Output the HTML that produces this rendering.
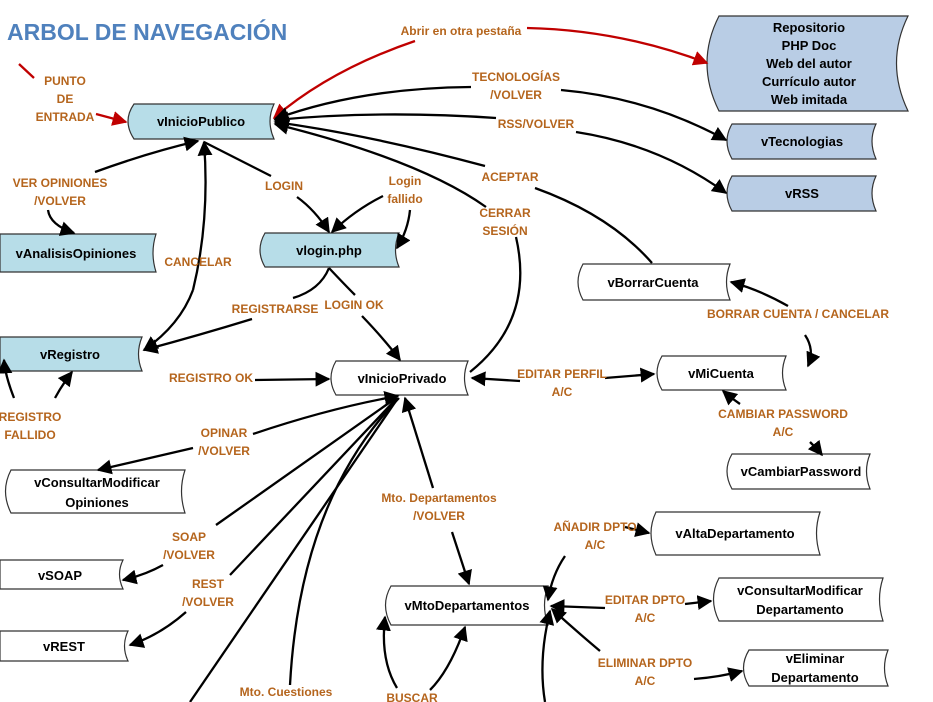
<!DOCTYPE html>
<html><head><meta charset="utf-8"><style>
html,body{margin:0;padding:0;background:#fff}
svg{display:block}
.n{font-family:"Liberation Sans",sans-serif;font-weight:bold;font-size:13px;fill:#000;text-anchor:middle}
.l{font-family:"Liberation Sans",sans-serif;font-weight:bold;font-size:12px;fill:#b5651d;text-anchor:middle}
.e{fill:none;stroke:#000;stroke-width:2.3}
.r{fill:none;stroke:#c00000;stroke-width:2.3}
.b{stroke:#333;stroke-width:1.2;fill:#b7dde8}
.g{stroke:#333;stroke-width:1.2;fill:#b9cde5}
.w{stroke:#333;stroke-width:1.2;fill:#fff}
</style></head><body>
<svg width="933" height="702" viewBox="0 0 933 702" xmlns="http://www.w3.org/2000/svg">
<defs>
<marker id="a" viewBox="0 0 10 10" refX="9" refY="5" markerWidth="6.5" markerHeight="6.5" orient="auto-start-reverse" markerUnits="strokeWidth"><path d="M0,0 L10,5 L0,10 z" fill="#000"/></marker>
<marker id="ar" viewBox="0 0 10 10" refX="9" refY="5" markerWidth="6.5" markerHeight="6.5" orient="auto" markerUnits="strokeWidth"><path d="M0,0 L10,5 L0,10 z" fill="#c00000"/></marker>
</defs>
<text x="7" y="40" style="font-family:'Liberation Sans',sans-serif;font-weight:bold;font-size:23px;fill:#4f81bd">ARBOL DE NAVEGACIÓN</text>

<path class="b" d="M134,104 H274 Q266,121 274,139 H134 Q122,121 134,104Z"/><text class="n" x="201" y="126">vInicioPublico</text>
<path class="g" d="M719,16 H908 Q885,63 908,111 H719 Q695,63 719,16Z"/>
<text class="n" x="809" y="32">Repositorio</text><text class="n" x="809" y="50">PHP Doc</text><text class="n" x="809" y="68">Web del autor</text><text class="n" x="809" y="86">Currículo autor</text><text class="n" x="809" y="104">Web imitada</text>
<path class="g" d="M732,124 H876 Q868,141 876,159 H732 Q722,141 732,124Z"/><text class="n" x="802" y="146">vTecnologias</text>
<path class="g" d="M732,176 H876 Q868,193 876,211 H732 Q722,193 732,176Z"/><text class="n" x="802" y="198">vRSS</text>
<path class="b" d="M0,234 H156 Q150,253 156,272 H0Z"/><text class="n" x="76" y="258">vAnalisisOpiniones</text>
<path class="b" d="M265,233 H399 Q392,250 399,267 H265 Q255,250 265,233Z"/><text class="n" x="329" y="255">vlogin.php</text>
<path class="w" d="M583,264 H730 Q723,282 730,300 H583 Q573,282 583,264Z"/><text class="n" x="653" y="287">vBorrarCuenta</text>
<path class="b" d="M0,337 H142 Q135,354 142,371 H0Z"/><text class="n" x="70" y="359">vRegistro</text>
<path class="w" d="M336,361 H468 Q461,378 468,395 H336 Q326,378 336,361Z"/><text class="n" x="402" y="383">vInicioPrivado</text>
<path class="w" d="M662,356 H786 Q779,373 786,390 H662 Q652,373 662,356Z"/><text class="n" x="721" y="378">vMiCuenta</text>
<path class="w" d="M732,454 H870 Q863,471 870,489 H732 Q722,471 732,454Z"/><text class="n" x="801" y="476">vCambiarPassword</text>
<path class="w" d="M11,470 H185 Q178,491 185,513 H11 Q0,491 11,470Z"/><text class="n" x="97" y="487">vConsultarModificar</text><text class="n" x="97" y="507">Opiniones</text>
<path class="w" d="M656,512 H820 Q813,533 820,555 H656 Q646,533 656,512Z"/><text class="n" x="735" y="538">vAltaDepartamento</text>
<path class="w" d="M0,560 H123 Q116,574 123,589 H0Z"/><text class="n" x="60" y="580">vSOAP</text>
<path class="w" d="M391,586 H548 Q541,605 548,625 H391 Q380,605 391,586Z"/><text class="n" x="467" y="610">vMtoDepartamentos</text>
<path class="w" d="M719,578 H883 Q876,599 883,621 H719 Q708,599 719,578Z"/><text class="n" x="800" y="595">vConsultarModificar</text><text class="n" x="800" y="614">Departamento</text>
<path class="w" d="M0,631 H128 Q121,646 128,661 H0Z"/><text class="n" x="64" y="651">vREST</text>
<path class="w" d="M749,650 H888 Q881,668 888,686 H749 Q738,668 749,650Z"/><text class="n" x="815" y="663">vEliminar</text><text class="n" x="815" y="682">Departamento</text>

<path class="r" d="M19,64 L34,78"/>
<path class="r" d="M96,114 L126,122" marker-end="url(#ar)"/>
<path class="r" d="M415,41 Q330,70 274,118" marker-end="url(#ar)"/>
<path class="r" d="M527,28 Q620,30 707,63" marker-end="url(#ar)"/>
<path class="e" d="M471,87 Q360,88 275,119" marker-end="url(#a)"/>
<path class="e" d="M496,118 Q380,110 275,120" marker-end="url(#a)"/>
<path class="e" d="M485,166 Q370,135 275,122" marker-end="url(#a)"/>
<path class="e" d="M486,207 Q420,160 275,124" marker-end="url(#a)"/>
<path class="e" d="M561,90 Q650,98 726,140" marker-end="url(#a)"/>
<path class="e" d="M576,132 Q660,145 726,193" marker-end="url(#a)"/>
<path class="e" d="M652,263 Q610,215 535,188"/>
<path class="e" d="M516,237 Q535,320 470,372"/>
<path class="e" d="M95,172 Q150,152 198,141" marker-end="url(#a)"/>
<path class="e" d="M48,210 Q50,225 74,233" marker-end="url(#a)"/>
<path class="e" d="M193,290 Q210,220 204,142" marker-end="url(#a)"/>
<path class="e" d="M193,290 Q180,325 144,350" marker-end="url(#a)"/>
<path class="e" d="M204,142 L271,176"/>
<path class="e" d="M297,197 Q315,210 329,232" marker-end="url(#a)"/>
<path class="e" d="M383,196 Q355,210 332,232" marker-end="url(#a)"/>
<path class="e" d="M410,210 Q408,230 397,248" marker-end="url(#a)"/>
<path class="e" d="M329,268 Q320,290 293,298"/>
<path class="e" d="M252,319 Q200,335 144,350" marker-end="url(#a)"/>
<path class="e" d="M329,268 Q345,285 355,295"/>
<path class="e" d="M362,316 Q385,340 400,360" marker-end="url(#a)"/>
<path class="e" d="M14,398 Q5,375 4,360" marker-end="url(#a)"/>
<path class="e" d="M55,398 Q62,385 72,372" marker-end="url(#a)"/>
<path class="e" d="M255,380 L329,379" marker-end="url(#a)"/>
<path class="e" d="M520,381 L472,378" marker-end="url(#a)"/>
<path class="e" d="M605,378 L654,374" marker-end="url(#a)"/>
<path class="e" d="M788,306 Q760,290 731,282" marker-end="url(#a)"/>
<path class="e" d="M805,335 Q815,350 808,366" marker-end="url(#a)"/>
<path class="e" d="M740,404 Q730,397 723,391" marker-end="url(#a)"/>
<path class="e" d="M810,442 Q818,450 822,455" marker-end="url(#a)"/>
<path class="e" d="M253,434 Q330,408 398,396" marker-end="url(#a)"/>
<path class="e" d="M193,448 L98,470" marker-end="url(#a)"/>
<path class="e" d="M216,525 L396,398"/>
<path class="e" d="M163,565 Q145,575 123,580" marker-end="url(#a)"/>
<path class="e" d="M230,575 L397,398"/>
<path class="e" d="M186,612 Q160,635 130,645" marker-end="url(#a)"/>
<path class="e" d="M190,702 L398,398"/>
<path class="e" d="M290,685 Q300,500 399,398"/>
<path class="e" d="M433,488 L405,398" marker-end="url(#a)"/>
<path class="e" d="M452,532 L469,584" marker-end="url(#a)"/>
<path class="e" d="M397,688 Q380,660 385,617" marker-end="url(#a)"/>
<path class="e" d="M430,690 Q450,670 465,627" marker-end="url(#a)"/>
<path class="e" d="M565,556 Q552,575 548,600" marker-end="url(#a)"/>
<path class="e" d="M625,527 L649,533" marker-end="url(#a)"/>
<path class="e" d="M605,608 L551,606" marker-end="url(#a)"/>
<path class="e" d="M685,604 L711,601" marker-end="url(#a)"/>
<path class="e" d="M600,651 Q575,630 552,609" marker-end="url(#a)"/>
<path class="e" d="M694,679 Q720,677 742,671" marker-end="url(#a)"/>
<path class="e" d="M545,702 Q538,660 550,611" marker-end="url(#a)"/>

<text class="l" x="461" y="35">Abrir en otra pestaña</text>
<text class="l" x="65" y="85">PUNTO</text><text class="l" x="65" y="103">DE</text><text class="l" x="65" y="121">ENTRADA</text>
<text class="l" x="516" y="81">TECNOLOGÍAS</text><text class="l" x="516" y="99">/VOLVER</text>
<text class="l" x="536" y="128">RSS/VOLVER</text>
<text class="l" x="510" y="181">ACEPTAR</text>
<text class="l" x="505" y="217">CERRAR</text><text class="l" x="505" y="235">SESIÓN</text>
<text class="l" x="60" y="187">VER OPINIONES</text><text class="l" x="60" y="205">/VOLVER</text>
<text class="l" x="198" y="266">CANCELAR</text>
<text class="l" x="284" y="190">LOGIN</text>
<text class="l" x="405" y="185">Login</text><text class="l" x="405" y="203">fallido</text>
<text class="l" x="275" y="313">REGISTRARSE</text>
<text class="l" x="354" y="309">LOGIN OK</text>
<text class="l" x="211" y="382">REGISTRO OK</text>
<text class="l" x="30" y="421">REGISTRO</text><text class="l" x="30" y="439">FALLIDO</text>
<text class="l" x="562" y="378">EDITAR PERFIL</text><text class="l" x="562" y="396">A/C</text>
<text class="l" x="798" y="318">BORRAR CUENTA / CANCELAR</text>
<text class="l" x="783" y="418">CAMBIAR PASSWORD</text><text class="l" x="783" y="436">A/C</text>
<text class="l" x="224" y="437">OPINAR</text><text class="l" x="224" y="455">/VOLVER</text>
<text class="l" x="189" y="541">SOAP</text><text class="l" x="189" y="559">/VOLVER</text>
<text class="l" x="208" y="588">REST</text><text class="l" x="208" y="606">/VOLVER</text>
<text class="l" x="439" y="502">Mto. Departamentos</text><text class="l" x="439" y="520">/VOLVER</text>
<text class="l" x="286" y="696">Mto. Cuestiones</text>
<text class="l" x="412" y="702">BUSCAR</text>
<text class="l" x="595" y="531">AÑADIR DPTO</text><text class="l" x="595" y="549">A/C</text>
<text class="l" x="645" y="604">EDITAR DPTO</text><text class="l" x="645" y="622">A/C</text>
<text class="l" x="645" y="667">ELIMINAR DPTO</text><text class="l" x="645" y="685">A/C</text>
</svg>
</body></html>
